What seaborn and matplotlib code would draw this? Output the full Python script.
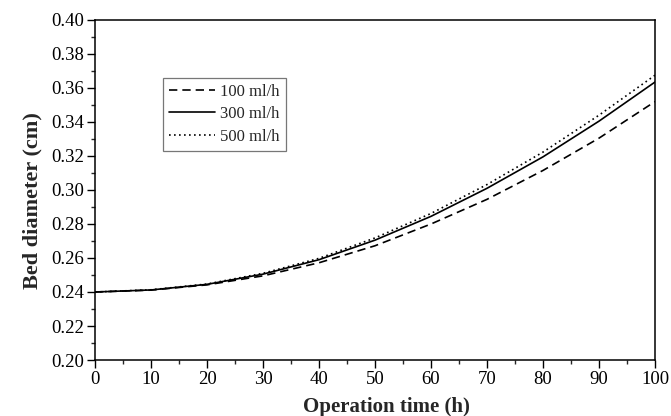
import numpy as np
import pandas as pd
import seaborn as sns
import matplotlib.pyplot as plt
from matplotlib.ticker import MultipleLocator, FormatStrFormatter

# values
time_h = [0, 10, 20, 30, 40, 50, 60, 70, 80, 90, 100]
d_100 = [0.2400, 0.2411, 0.2442, 0.2495, 0.2572, 0.2672, 0.2800, 0.2945, 0.3115, 0.3305, 0.3520]
d_300 = [0.2400, 0.2412, 0.2445, 0.2505, 0.2590, 0.2705, 0.2845, 0.3010, 0.3195, 0.3405, 0.3635]
d_500 = [0.2400, 0.2413, 0.2447, 0.2510, 0.2598, 0.2718, 0.2862, 0.3032, 0.3223, 0.3440, 0.3675]
labels = ["100 ml/h", "300 ml/h", "500 ml/h"]

sns.set_style("ticks")
plt.rcParams['font.family'] = ['Liberation Serif', 'DejaVu Serif']

fig = plt.figure(figsize=(6.71, 4.16), dpi=100)
ax = fig.add_axes([0.1416, 0.1346, 0.8346, 0.8174])

styles = [(0, (5, 3)), '-', (0, (1, 2))]
for vals, lab, ls in zip([d_100, d_300, d_500], labels, styles):
    df = pd.DataFrame({"t": time_h, "d": vals})
    sns.lineplot(data=df, x="t", y="d", ax=ax, color="black", linestyle=ls,
                 linewidth=1.2, label=lab)

ax.set_xlim(0, 100)
ax.set_ylim(0.20, 0.40)
ax.xaxis.set_major_locator(MultipleLocator(10))
ax.xaxis.set_minor_locator(MultipleLocator(5))
ax.yaxis.set_major_locator(MultipleLocator(0.02))
ax.yaxis.set_minor_locator(MultipleLocator(0.01))
ax.yaxis.set_major_formatter(FormatStrFormatter('%.2f'))
ax.tick_params(which='major', direction='out', length=5.5, width=1, labelsize=13.5,
               top=False, right=False, colors='black', pad=2.5)
ax.tick_params(which='minor', direction='out', length=3, width=1,
               top=False, right=False)
for sp in ax.spines.values():
    sp.set_visible(True)
    sp.set_linewidth(1.1)
    sp.set_color('black')

ax.set_xlabel("Operation time (h)", fontsize=15, fontweight='bold')
ax.set_ylabel("Bed diameter (cm)", fontsize=16, fontweight='bold')
ax.xaxis.set_label_coords(0.521, -0.11)
ax.yaxis.set_label_coords(-0.094, 0.468)

leg = ax.legend(loc='upper left', bbox_to_anchor=(0.121, 0.83), fontsize=12,
                frameon=True, fancybox=False, edgecolor='#555555',
                handlelength=2.8, handletextpad=0.3, borderpad=0.35,
                labelspacing=0.4, borderaxespad=0)
leg.get_frame().set_linewidth(0.9)

fig.savefig("out.png", dpi=100)
